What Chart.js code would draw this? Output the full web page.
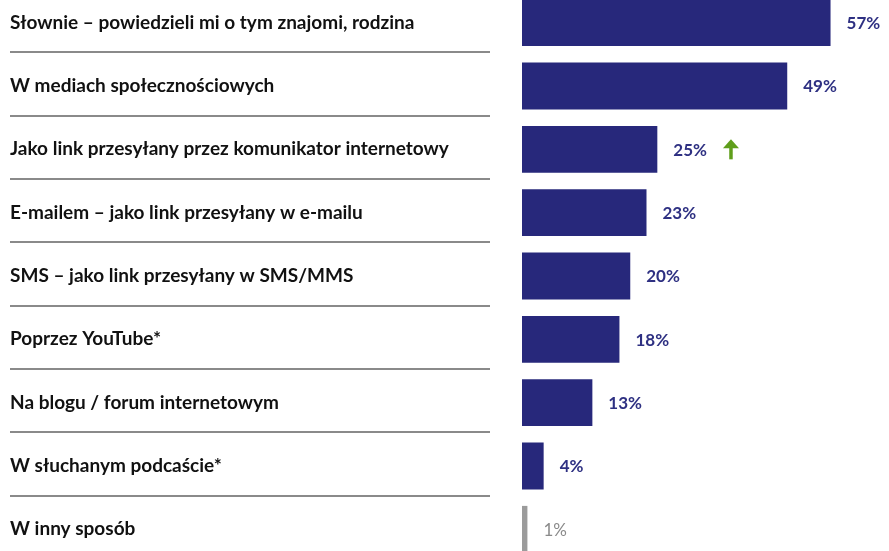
<!DOCTYPE html>
<html>
<head>
<meta charset="utf-8">
<script src="https://cdn.jsdelivr.net/npm/chart.js@4"></script>
<style>
  html, body { margin: 0; padding: 0; background: #fff; }
  #wrap { position: relative; width: 889px; height: 551px; overflow: hidden; }
  #box { position: absolute; left: 0; top: -9px; width: 889px; height: 570px; }
</style>
</head>
<body>
<div id="wrap"><div id="box"><canvas id="myChart"></canvas></div></div>
<script>
const categories = [
  'Słownie – powiedzieli mi o tym znajomi, rodzina',
  'W mediach społecznościowych',
  'Jako link przesyłany przez komunikator internetowy',
  'E-mailem – jako link przesyłany w e-mailu',
  'SMS – jako link przesyłany w SMS/MMS',
  'Poprzez YouTube*',
  'Na blogu / forum internetowym',
  'W słuchanym podcaście*',
  'W inny sposób'
];
const values = [57, 49, 25, 23, 20, 18, 13, 4, 1];
const upMarks = [false, false, true, false, false, false, false, false, false];

const navy = '#27287b';
const grey = '#9b9b9b';
const barColors = values.map((v, i) => i === values.length - 1 ? grey : navy);

const ctx = document.getElementById('myChart').getContext('2d');

const rowLines = {
  id: 'rowLines',
  afterDraw(chart) {
    const y = chart.scales.y;
    const c = chart.ctx;
    c.save();
    c.strokeStyle = '#8a8a8a';
    c.lineWidth = 2;
    for (let i = 0; i < categories.length; i++) {
      const py = Math.round((y.getPixelForValue(i) + y.getPixelForValue(i + 1)) / 2) - 2;
      c.beginPath();
      c.moveTo(10, py);
      c.lineTo(490, py);
      c.stroke();
    }
    c.restore();
  }
};

const valueLabels = {
  id: 'valueLabels',
  afterDatasetsDraw(chart) {
    const meta = chart.getDatasetMeta(0);
    const c = chart.ctx;
    c.save();
    c.textBaseline = 'middle';
    c.textAlign = 'left';
    meta.data.forEach((bar, i) => {
      const last = i === values.length - 1;
      c.font = (last ? '' : 'bold ') + '17px Lato';
      c.fillStyle = last ? '#8a8a8a' : '#2e3082';
      const txt = values[i] + '%';
      const x = bar.x + 16;
      c.fillText(txt, x, bar.y + 1);
      if (upMarks[i]) {
        const ax = x + c.measureText(txt).width + 24;
        const ay = bar.y;
        c.strokeStyle = '#5f9e1b';
        c.fillStyle = '#5f9e1b';
        c.lineWidth = 3.5;
        c.beginPath();
        c.moveTo(ax, ay - 3);
        c.lineTo(ax, ay + 10);
        c.stroke();
        c.beginPath();
        c.moveTo(ax - 8, ay - 1);
        c.lineTo(ax, ay - 10);
        c.lineTo(ax + 8, ay - 1);
        c.closePath();
        c.fill();
      }
    });
    c.restore();
  }
};

new Chart(ctx, {
  type: 'bar',
  data: {
    labels: categories,
    datasets: [{
      data: values,
      backgroundColor: barColors,
      borderWidth: 0,
      barPercentage: 0.74,
      categoryPercentage: 1
    }]
  },
  options: {
    indexAxis: 'y',
    responsive: true,
    maintainAspectRatio: false,
    animation: false,
    layout: { padding: { left: 10, right: 0, top: 0, bottom: 0 } },
    plugins: {
      legend: { display: false },
      tooltip: { enabled: false }
    },
    scales: {
      x: {
        display: false,
        min: 0,
        max: 67.8
      },
      y: {
        afterFit(scale) {
          scale.width = 512;
          scale.paddingTop = 0;
          scale.paddingBottom = 0;
        },
        grid: { display: false, drawTicks: false },
        border: { display: false },
        ticks: {
          crossAlign: 'far',
          color: '#111',
          font: { family: 'Lato', weight: 'bold', size: 19 }
        }
      }
    }
  },
  plugins: [rowLines, valueLabels]
});
</script>
</body>
</html>
